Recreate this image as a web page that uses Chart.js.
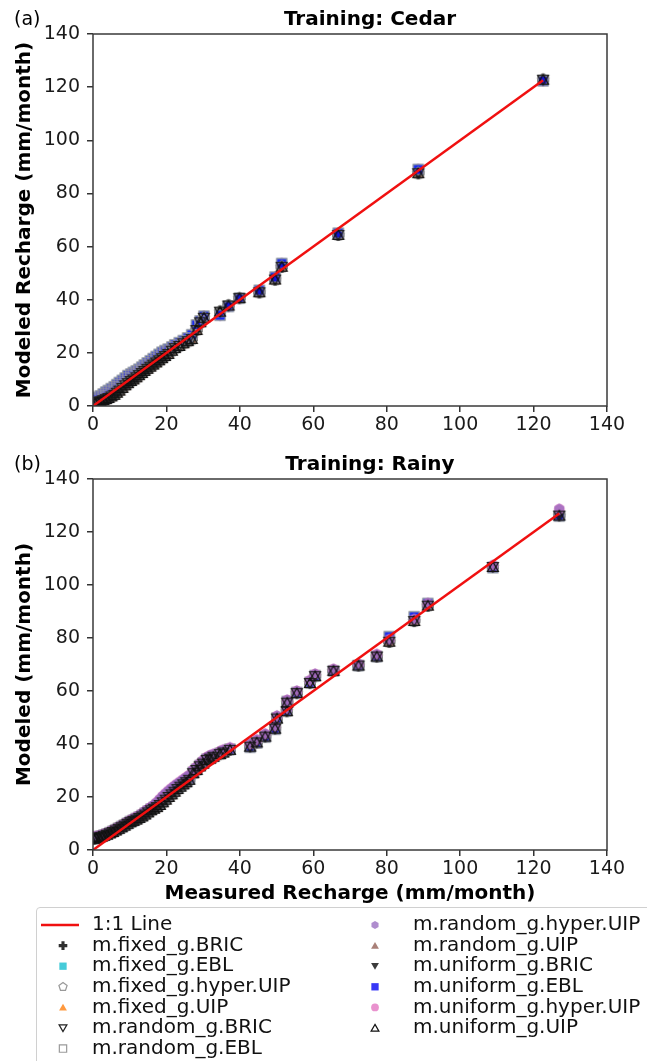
<!DOCTYPE html>
<html>
<head>
<meta charset="utf-8">
<script src="https://cdn.jsdelivr.net/npm/chart.js@4.4.1/dist/chart.umd.min.js"></script>
<style>
  body { margin: 0; background: #fff; }
  .panel { position: absolute; left: 0; width: 647px; }
</style>
</head>
<body>
<div class="panel" style="top:0;height:440px"><canvas id="cedar"></canvas></div>
<div class="panel" style="top:440px;height:621px"><canvas id="rainy"></canvas></div>
<script>
// Training: Cedar
const cedarMeasured = [0.5, 1.2, 2, 2.8, 3.5, 4.2, 5, 5.8, 6.5, 7.2, 8, 8.8, 9.5, 10.3, 11, 11.8, 12.5, 13.3, 14, 14.8, 15.6, 16.4, 17.2, 18, 18.8, 19.6, 20.5, 21.5, 22.3, 23.5, 24.6, 25.8, 26.9, 28.2, 29.2, 30.2, 34.6, 36.9, 39.9, 45.3, 49.6, 51.4, 66.8, 88.6, 122.6];
const cedarEBL = [2.5, 3.2, 3.8, 4.5, 5.2, 5.8, 6.5, 7.2, 8, 8.8, 9.6, 10.5, 11.4, 12, 12.6, 13.2, 13.8, 14.6, 15.4, 16.2, 17, 17.8, 18.6, 19.4, 20.2, 20.8, 21.4, 22.2, 23, 23.8, 24.6, 25.6, 26.8, 30.5, 32, 33.8, 34.2, 37.5, 40.6, 43.5, 48.5, 53.6, 65, 89, 122.4];
const cedarUIP = [1, 1.5, 1.8, 2.2, 2.6, 3, 3.6, 4.2, 5, 5.8, 6.8, 7.8, 8.6, 9.4, 10, 10.8, 11.6, 12.4, 13.2, 14, 14.8, 15.6, 16.4, 17.2, 18, 18.8, 19.6, 20.8, 21.8, 22.6, 23.6, 24.4, 25.2, 28.6, 31.5, 33.2, 35.5, 37.8, 40.6, 42.8, 47.6, 52.4, 64.4, 87.6, 122.8];
const cedarLine = [0, 122.6];

// Training: Rainy
const rainyMeasured = [0.3, 0.8, 1.5, 2.3, 3, 3.8, 4.6, 5.4, 6.2, 7, 7.8, 8.6, 9.4, 10.2, 11, 11.8, 12.6, 13.4, 14.2, 15, 15.8, 16.6, 17.4, 18.2, 19, 19.8, 20.6, 21.4, 22.2, 23, 23.8, 24.6, 25.4, 26.2, 27.3, 28.2, 29.1, 30, 31, 31.9, 32.8, 34.6, 35.5, 37.3, 42.8, 44.6, 46.9, 49.6, 50.1, 52.8, 52.9, 55.5, 59.1, 60.5, 65.5, 72.3, 77.3, 80.7, 87.5, 91.2, 108.9, 127];
const rainyUIP = [4.2, 4.5, 4.8, 5, 5.4, 5.8, 6.3, 6.8, 7.4, 8, 8.6, 9.2, 9.9, 10.5, 11, 11.5, 12.1, 12.7, 13.4, 14.2, 15, 15.6, 16.2, 17, 18, 19, 20, 21, 22, 23, 23.9, 24.8, 25.6, 26.5, 29, 30.2, 31.6, 32.6, 34, 34.5, 35.2, 36.2, 36.8, 37.8, 39, 40.6, 42.8, 45.8, 49.6, 52.4, 55.6, 59.2, 63, 65.6, 67.6, 69.6, 73, 78.6, 86.4, 92.2, 106.8, 126.2];
const rainyEBL = [4.4, 4.7, 5, 5.2, 5.6, 6, 6.5, 7, 7.6, 8.2, 8.8, 9.4, 10, 10.7, 11.2, 11.8, 12.4, 13, 13.8, 14.6, 15.4, 16, 16.8, 17.6, 18.6, 19.6, 20.6, 21.6, 22.6, 23.4, 24.2, 25, 25.8, 26.8, 29.2, 30.4, 31.8, 32.8, 34.2, 34.6, 35.4, 36.4, 37, 38, 38.8, 40.4, 42.6, 45.6, 49.8, 52.6, 56, 59.4, 63.2, 65.8, 67.6, 69.6, 73, 80.5, 88, 93, 106.6, 126];
const rainyHyper = [4.8, 5, 5.3, 5.6, 6, 6.4, 6.9, 7.4, 8, 8.6, 9.2, 9.9, 10.6, 11.2, 11.8, 12.4, 13, 13.8, 14.6, 15.4, 16.2, 17, 18, 19.2, 20.4, 21.4, 22.4, 23.3, 24.2, 25, 25.8, 26.6, 27.4, 28.2, 30.2, 31.3, 32.6, 33.8, 35, 35.6, 36.2, 37.2, 37.8, 38.6, 40, 41.6, 43.8, 46.8, 50.6, 53.4, 56.6, 60, 64, 66.4, 68.2, 70.2, 73.8, 79.4, 87, 93, 107.4, 128.6];
const rainyLine = [0, 127];

const axisTicks = [0, 20, 40, 60, 80, 100, 120, 140];

// model names, marker shape, fill, edge (legend order)
const modelNames = ['m.fixed_g.BRIC', 'm.fixed_g.EBL', 'm.fixed_g.hyper.UIP', 'm.fixed_g.UIP', 'm.random_g.BRIC', 'm.random_g.EBL',
  'm.random_g.hyper.UIP', 'm.random_g.UIP', 'm.uniform_g.BRIC', 'm.uniform_g.EBL', 'm.uniform_g.hyper.UIP', 'm.uniform_g.UIP'];
const modelShapes = ['plus', 'square', 'pentagon', 'triangle', 'triangleDown', 'square', 'hexagon', 'triangle', 'triangleDown', 'square', 'circle', 'triangle'];
const modelFills = ['rgba(25,25,25,0.9)', 'rgba(23,190,207,0.8)', null, 'rgba(255,127,14,0.8)', null, null,
  'rgba(148,103,189,0.75)', 'rgba(140,86,75,0.75)', 'rgba(25,25,25,0.85)', 'rgba(20,20,245,0.85)', 'rgba(227,119,194,0.8)', null];
const modelEdges = [null, null, '#999999', null, '#222222', '#9a9a9a', null, null, null, null, null, '#111111'];

// which modeled series each model uses, and stacking (lower = on top)
const cedarSeries = ['uip', 'ebl', 'uip', 'uip', 'uip', 'ebl', 'ebl', 'uip', 'uip', 'ebl', 'ebl', 'uip'];
const cedarOrder = [8, 12, 4, 10, 3, 5, 14, 9, 7, 6, 13, 2];
const rainySeries = ['uip', 'ebl', 'uip', 'uip', 'uip', 'ebl', 'hyper', 'uip', 'uip', 'ebl', 'hyper', 'uip'];
const rainyOrder = [9, 12, 6, 11, 3, 7, 4, 10, 8, 8, 5, 2];

const FONT = "'DejaVu Sans', sans-serif";

function shapePath(ctx, shape, r) {
  ctx.beginPath();
  if (shape === 'square') {
    const s = r * 0.85;
    ctx.rect(-s, -s, 2 * s, 2 * s);
  } else if (shape === 'circle') {
    ctx.arc(0, 0, r * 0.9, 0, Math.PI * 2);
  } else if (shape === 'plus') {
    const a = r, b = r * 0.36;
    ctx.moveTo(-b, -a); ctx.lineTo(b, -a); ctx.lineTo(b, -b); ctx.lineTo(a, -b); ctx.lineTo(a, b);
    ctx.lineTo(b, b); ctx.lineTo(b, a); ctx.lineTo(-b, a); ctx.lineTo(-b, b); ctx.lineTo(-a, b);
    ctx.lineTo(-a, -b); ctx.lineTo(-b, -b);
  } else {
    let n = 3, start = -Math.PI / 2, rr = r;
    if (shape === 'triangleDown') start = Math.PI / 2;
    if (shape === 'pentagon') n = 5;
    if (shape === 'hexagon') { n = 6; rr = r * 0.95; }
    if (shape === 'triangle' || shape === 'triangleDown') rr = r * 1.05;
    for (let i = 0; i < n; i++) {
      const t = start + i * 2 * Math.PI / n;
      const px = rr * Math.cos(t), py = rr * Math.sin(t) + (n === 3 ? (shape === 'triangle' ? r * 0.2 : -r * 0.2) : 0);
      if (i === 0) ctx.moveTo(px, py); else ctx.lineTo(px, py);
    }
  }
  ctx.closePath();
}

function drawShape(ctx, shape, r, fill, edge) {
  shapePath(ctx, shape, r);
  if (fill) { ctx.fillStyle = fill; ctx.fill(); }
  if (edge) { ctx.strokeStyle = edge; ctx.lineWidth = 1.2; ctx.stroke(); }
}

function makeMarker(shape, r, fill, edge) {
  const size = Math.ceil(r * 2 + 4);
  const c = document.createElement('canvas');
  c.width = size; c.height = size;
  const ctx = c.getContext('2d');
  ctx.translate(size / 2, size / 2);
  drawShape(ctx, shape, r, fill, edge);
  return c;
}

const markerImages = modelShapes.map((s, i) => makeMarker(s, 6, modelFills[i], modelEdges[i]));

function toPoints(xs, ys) {
  return xs.map((x, i) => ({ x, y: ys[i] }));
}

function buildDatasets(measured, seriesMap, seriesKeys, orders, line) {
  const sets = modelNames.map((name, i) => ({
    type: 'scatter',
    label: name,
    data: toPoints(measured, seriesMap[seriesKeys[i]]),
    pointStyle: markerImages[i],
    order: orders[i]
  }));
  sets.push({
    type: 'line',
    label: '1:1 Line',
    data: toPoints(line, line),
    borderColor: '#f01010',
    borderWidth: 2.5,
    pointRadius: 0,
    order: 0
  });
  return sets;
}

// frame + panel titles
const framePlugin = {
  id: 'frame',
  afterDraw(chart, args, opts) {
    const { ctx, chartArea: a } = chart;
    ctx.save();
    ctx.strokeStyle = '#3a3a3a';
    ctx.lineWidth = 1.5;
    ctx.strokeRect(a.left, a.top, a.right - a.left, a.bottom - a.top);
    ctx.fillStyle = '#000';
    ctx.textBaseline = 'alphabetic';
    ctx.font = 'bold 20px ' + FONT;
    ctx.textAlign = 'center';
    ctx.fillText(opts.title, 370, opts.titleY);
    ctx.font = '19px ' + FONT;
    ctx.textAlign = 'left';
    ctx.fillText(opts.tag, 14, opts.titleY);
    ctx.restore();
  }
};

const legendPlugin = {
  id: 'boxLegend',
  afterDraw(chart, args, opts) {
    if (!opts.show) return;
    const ctx = chart.ctx;
    ctx.save();
    ctx.strokeStyle = '#d0d0d0';
    ctx.lineWidth = 1;
    ctx.beginPath();
    ctx.moveTo(660, 467.5);
    ctx.lineTo(40, 467.5);
    ctx.arcTo(36.5, 467.5, 36.5, 471, 3.5);
    ctx.lineTo(36.5, 640);
    ctx.stroke();
    ctx.font = '20px ' + FONT;
    ctx.fillStyle = '#111';
    ctx.textBaseline = 'middle';
    ctx.textAlign = 'left';
    const rowY = i => 485 + i * 20.6;
    // 1:1 line entry
    ctx.strokeStyle = '#f01010';
    ctx.lineWidth = 2.5;
    ctx.beginPath();
    ctx.moveTo(41, rowY(0)); ctx.lineTo(79, rowY(0));
    ctx.stroke();
    ctx.fillText('1:1 Line', 92, rowY(0));
    modelNames.forEach((name, i) => {
      const col = i < 6 ? 0 : 1;
      const row = col === 0 ? i + 1 : i - 6;
      const mx = col === 0 ? 63 : 375;
      const tx = col === 0 ? 92 : 413;
      const y = rowY(row);
      ctx.save();
      ctx.translate(mx, y);
      drawShape(ctx, modelShapes[i], 4.3, modelFills[i], modelEdges[i]);
      ctx.restore();
      ctx.fillStyle = '#111';
      ctx.fillText(name, tx, y);
    });
    ctx.restore();
  }
};

function makeChart(id, datasets, opts) {
  return new Chart(document.getElementById(id), {
    data: { datasets },
    options: {
      responsive: true,
      maintainAspectRatio: false,
      animation: false,
      events: [],
      layout: { padding: { top: opts.top, left: 0, right: 40, bottom: opts.bottom } },
      plugins: {
        legend: { display: false },
        tooltip: { enabled: false },
        frame: { title: opts.title, tag: opts.tag, titleY: opts.titleY },
        boxLegend: { show: opts.legend }
      },
      scales: {
        x: {
          type: 'linear',
          min: 0, max: 140,
          afterBuildTicks: axis => { axis.ticks = axisTicks.map(v => ({ value: v })); },
          afterFit: axis => { axis.height = opts.xHeight; },
          grid: { drawOnChartArea: false, drawTicks: true, tickLength: 6, color: '#333', lineWidth: 1.5 },
          border: { display: false },
          ticks: { font: { family: FONT, size: 19 }, color: '#1a1a1a', padding: 2, maxRotation: 0 },
          title: {
            display: !!opts.xTitle,
            text: opts.xTitle || '',
            font: { family: FONT, size: 20, weight: 'bold' },
            color: '#000',
            padding: { top: 0, bottom: 4 }
          }
        },
        y: {
          type: 'linear',
          min: 0, max: 140,
          afterBuildTicks: axis => { axis.ticks = axisTicks.map(v => ({ value: v })); },
          afterFit: axis => { axis.width = 93; },
          grid: { drawOnChartArea: false, drawTicks: true, tickLength: 6, color: '#333', lineWidth: 1.5 },
          border: { display: false },
          ticks: { font: { family: FONT, size: 19 }, color: '#1a1a1a', padding: 7 },
          title: {
            display: true,
            text: opts.yTitle,
            font: { family: FONT, size: 20, weight: 'bold' },
            color: '#000',
            padding: { top: 13, bottom: 0 }
          }
        }
      }
    },
    plugins: [framePlugin, legendPlugin]
  });
}

makeChart('cedar',
  buildDatasets(cedarMeasured, { uip: cedarUIP, ebl: cedarEBL }, cedarSeries, cedarOrder, cedarLine),
  { top: 34, bottom: 0, xHeight: 34, title: 'Training: Cedar', tag: '(a)', titleY: 25,
    yTitle: 'Modeled Recharge (mm/month)', legend: false });

makeChart('rainy',
  buildDatasets(rainyMeasured, { uip: rainyUIP, ebl: rainyEBL, hyper: rainyHyper }, rainySeries, rainyOrder, rainyLine),
  { top: 39, bottom: 151, xHeight: 60, title: 'Training: Rainy', tag: '(b)', titleY: 30,
    yTitle: 'Modeled (mm/month)', xTitle: 'Measured Recharge (mm/month)', legend: true });
</script>
</body>
</html>
